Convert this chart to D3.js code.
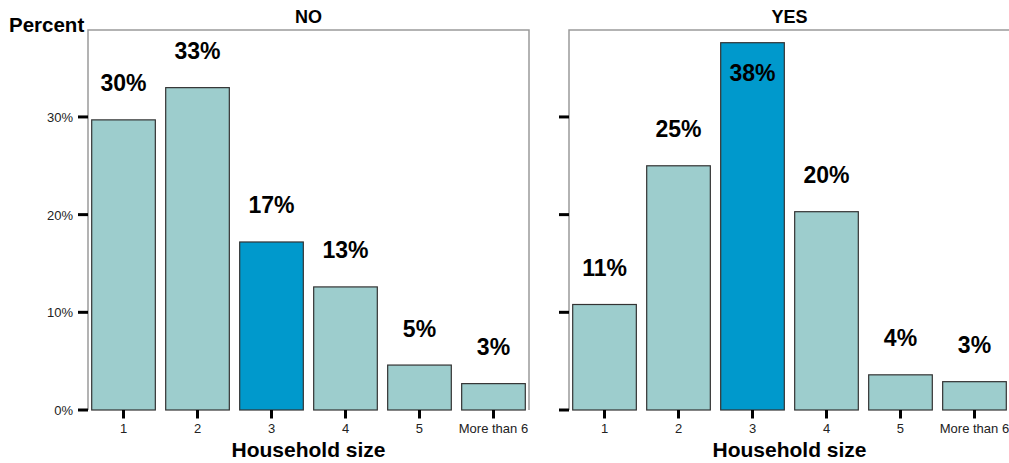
<!DOCTYPE html>
<html><head><meta charset="utf-8">
<script src="https://cdn.jsdelivr.net/npm/d3@7"></script>
<style>body{margin:0;background:#fff}svg{display:block;font-family:"Liberation Sans",Arial,sans-serif}</style>
</head><body><svg id="c" width="1009" height="463"></svg>
<script>
const categories = ["1","2","3","4","5","More than 6"];
const noValues = [29.7, 33.0, 17.2, 12.6, 4.6, 2.7];
const yesValues = [10.8, 25.0, 37.6, 20.3, 3.6, 2.9];
const noLabels = ["30%","33%","17%","13%","5%","3%"];
const yesLabels = ["11%","25%","38%","20%","4%","3%"];
const yTicks = [0, 10, 20, 30];
const panelTitles = ["NO","YES"];

(function(){
const svg = d3.select("#c");
const plotTop = 30, plotBottom = 410;
const y = d3.scaleLinear().domain([0, 38.9]).range([plotBottom, plotTop]);
const panels = [
  {title: panelTitles[0], vals: noValues, labels: noLabels, x0: 88, x1: 529, showLabels: true},
  {title: panelTitles[1], vals: yesValues, labels: yesLabels, x0: 569, x1: 1010, showLabels: false}
];
const light = "#9dcdcd", dark = "#0099cc";

panels.forEach(p => {
  const x = d3.scaleBand().domain(categories).range([p.x0, p.x1]).paddingInner(0.14).paddingOuter(0.05);
  const g = svg.append("g");
  g.append("path").attr("d", `M${p.x0},${plotBottom}V${plotTop}H${p.x1}V${plotBottom}`)
    .attr("fill","none").attr("stroke","#9a9a9a").attr("stroke-width",1.5);
  g.selectAll("rect.bar").data(p.vals).join("rect")
    .attr("x",(d,i)=>x(categories[i])).attr("width",x.bandwidth())
    .attr("y",d=>y(d)).attr("height",d=>plotBottom-y(d))
    .attr("fill",(d,i)=>i===2?dark:light).attr("stroke","#333").attr("stroke-width",1.2);
  g.selectAll("text.val").data(p.vals).join("text")
    .attr("x",(d,i)=>x(categories[i])+x.bandwidth()/2)
    .attr("y",d=>{ const above = y(d)-28.5; return above < plotTop + 20 ? y(d)+38 : above; })
    .attr("text-anchor","middle").attr("font-weight","bold").attr("font-size",23)
    .text((d,i)=>p.labels[i]);
  g.selectAll("line.yt").data(yTicks).join("line")
    .attr("x1",p.x0-10).attr("x2",p.x0).attr("y1",d=>y(d)).attr("y2",d=>y(d))
    .attr("stroke","#000").attr("stroke-width",3);
  if (p.showLabels) {
    g.selectAll("text.yl").data(yTicks).join("text")
      .attr("x",p.x0-15).attr("y",d=>y(d)+5).attr("text-anchor","end")
      .attr("font-size",13).attr("fill","#222").text(d=>d+"%");
  }
  g.selectAll("line.xt").data(categories).join("line")
    .attr("x1",d=>x(d)+x.bandwidth()/2).attr("x2",d=>x(d)+x.bandwidth()/2)
    .attr("y1",plotBottom).attr("y2",plotBottom+8.5).attr("stroke","#000").attr("stroke-width",3);
  g.selectAll("text.xl").data(categories).join("text")
    .attr("x",d=>x(d)+x.bandwidth()/2).attr("y",plotBottom+23).attr("text-anchor","middle")
    .attr("font-size",13).attr("fill","#222").text(d=>d);
  g.append("text").attr("x",(p.x0+p.x1)/2).attr("y",456.5).attr("text-anchor","middle")
    .attr("font-weight","bold").attr("font-size",21).text("Household size");
  g.append("text").attr("x",(p.x0+p.x1)/2).attr("y",23).attr("text-anchor","middle")
    .attr("font-weight","bold").attr("font-size",18).text(p.title);
});
svg.append("text").attr("x",9).attr("y",32).attr("font-weight","bold").attr("font-size",20.5).text("Percent");
})();
</script></body></html>
